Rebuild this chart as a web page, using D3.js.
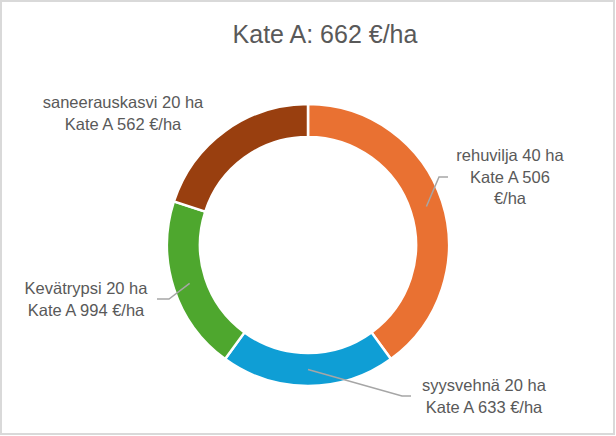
<!DOCTYPE html>
<html>
<head>
<meta charset="utf-8">
<script src="https://cdn.jsdelivr.net/npm/d3@7"></script>
<style>
  html, body { margin: 0; padding: 0; background: #fff; }
  svg { display: block; }
  text { font-family: "Liberation Sans", Arial, sans-serif; fill: #595959; }
</style>
</head>
<body>
<svg id="chart" width="616" height="436"></svg>
<script>
// ---- data ----
const title = "Kate A: 662 €/ha";
const categories = ["rehuvilja", "syysvehnä", "Kevätrypsi", "saneerauskasvi"];
const hectares = [40, 20, 20, 20];
const kateA = [506, 633, 994, 562];
const colors = ["#E97132", "#0F9ED5", "#4EA72E", "#993F0F"];
const labelLines = [
  ["rehuvilja 40 ha", "Kate A 506", "€/ha"],
  ["syysvehnä 20 ha", "Kate A 633 €/ha"],
  ["Kevätrypsi 20 ha", "Kate A 994 €/ha"],
  ["saneerauskasvi 20 ha", "Kate A 562 €/ha"]
];

// ---- layout ----
const W = 616, H = 436;
const cx = 308, cy = 245;
const rOuter = 141, rInner = 108;
// label anchor (center of first baseline) relative to chart center, and leader elbows
const labelLayout = [
  { dx: 202, dy: -84, leader: true, elbow: [131, -68], end: [140, -68] },
  { dx: 176, dy: 146, leader: true, elbow: [94, 151], end: [103, 151] },
  { dx: -222, dy: 49, leader: true, elbow: [-139, 54], end: [-151, 54] },
  { dx: -185, dy: -137, leader: false }
];
const lineHeight = 21.7;

const svg = d3.select("#chart");

svg.append("rect")
  .attr("x", 1).attr("y", 1)
  .attr("width", W - 3).attr("height", H - 3)
  .attr("fill", "#fff")
  .attr("stroke", "#d9d9d9")
  .attr("stroke-width", 2);

svg.append("text")
  .attr("x", 325).attr("y", 43)
  .attr("text-anchor", "middle")
  .attr("font-size", 25)
  .text(title);

const data = categories.map((c, i) => ({ name: c, ha: hectares[i], kate: kateA[i], color: colors[i], lines: labelLines[i], lay: labelLayout[i] }));

const pie = d3.pie().value(d => d.ha).sort(null);
const arcs = pie(data);
const arc = d3.arc().innerRadius(rInner).outerRadius(rOuter);
const midArc = d3.arc().innerRadius((rInner + rOuter) / 2).outerRadius((rInner + rOuter) / 2);

const g = svg.append("g").attr("transform", `translate(${cx},${cy})`);

g.selectAll("path.slice")
  .data(arcs)
  .join("path")
  .attr("class", "slice")
  .attr("d", arc)
  .attr("fill", d => d.data.color)
  .attr("stroke", "#fff")
  .attr("stroke-width", 2.5)
  .attr("stroke-linejoin", "miter");

// leader lines
g.selectAll("polyline.leader")
  .data(arcs.filter(d => d.data.lay.leader))
  .join("polyline")
  .attr("class", "leader")
  .attr("fill", "none")
  .attr("stroke", "#a6a6a6")
  .attr("stroke-width", 1.5)
  .attr("points", d => {
    const c = midArc.centroid(d);
    return [c, d.data.lay.elbow, d.data.lay.end].map(p => p.join(",")).join(" ");
  });

// labels
const lbl = g.selectAll("text.lbl")
  .data(arcs)
  .join("text")
  .attr("class", "lbl")
  .attr("text-anchor", "middle")
  .attr("font-size", 16.5)
  .attr("x", d => d.data.lay.dx)
  .attr("y", d => d.data.lay.dy);

lbl.selectAll("tspan")
  .data(d => d.data.lines.map(t => ({ t, x: d.data.lay.dx })))
  .join("tspan")
  .attr("x", d => d.x)
  .attr("dy", (d, i) => i === 0 ? 0 : lineHeight)
  .text(d => d.t);
</script>
</body>
</html>
